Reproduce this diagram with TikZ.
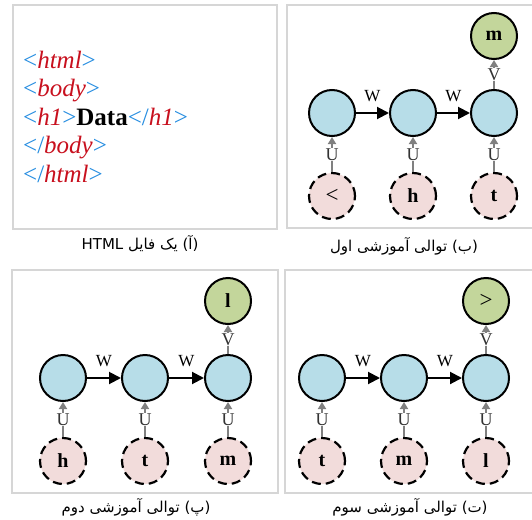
\documentclass[tikz,border=0pt]{standalone}
\usepackage{fontspec}
\setmainfont{Liberation Serif}
\newfontfamily\arabicfont[Script=Arabic]{DejaVu Sans}
\TeXXeTstate=1
\usetikzlibrary{arrows.meta}
\definecolor{hidcol}{RGB}{183,221,232}
\definecolor{outcol}{RGB}{195,214,155}
\definecolor{incol}{RGB}{242,220,219}
\definecolor{tagblue}{RGB}{36,140,224}
\definecolor{tagred}{RGB}{200,16,30}
\definecolor{framecol}{RGB}{214,214,214}
\newcommand\bl[1]{\textcolor{tagblue}{#1}}
\newcommand\rd[1]{\textcolor{tagred}{\textit{#1}}}
\tikzset{
  panelframe/.style={draw=framecol, line width=2.5pt},
  hid/.style={circle, draw=black, line width=2pt, fill=hidcol, minimum size=46pt, inner sep=0pt},
  outn/.style={hid, fill=outcol, font=\fontsize{20}{20}\selectfont\bfseries},
  inn/.style={hid, fill=incol, line width=2.2pt, dash pattern=on 9pt off 5pt, font=\fontsize{20}{20}\selectfont\bfseries},
  warrow/.style={draw=black, line width=2pt, -{Triangle[width=12pt,length=12pt]}},
  garrow/.style={draw=black!50, line width=1.8pt, -{Triangle[width=8pt,length=7pt]}},
  glabel/.style={fill=white, inner sep=0.3pt, text=black!80, font=\fontsize{18}{18}\selectfont},
  wlabel/.style={text=black, font=\fontsize{17}{17}\selectfont},
  htmlline/.style={anchor=base west, inner sep=0pt, font=\fontsize{25}{25}\selectfont},
  caption/.style={font=\arabicfont\fontsize{15}{15}\selectfont, inner sep=0pt}
}
\newcommand\rnnpanel[9]{%
  \node[hid] (#1h1) at (#2,#5) {};
  \node[hid] (#1h2) at (#3,#5) {};
  \node[hid] (#1h3) at (#4,#5) {};
  \node[outn] (#1o) at (#4,#5-77) {#9};
  \node[inn] (#1i1) at (#2,#5+83) {#6};
  \node[inn] (#1i2) at (#3,#5+83) {#7};
  \node[inn] (#1i3) at (#4,#5+83) {#8};
  \draw[warrow] (#1h1) -- node[wlabel, above=7pt] {W} (#1h2);
  \draw[warrow] (#1h2) -- node[wlabel, above=7pt] {W} (#1h3);
  \draw[garrow] (#1i1) -- node[glabel] {U} (#1h1);
  \draw[garrow] (#1i2) -- node[glabel] {U} (#1h2);
  \draw[garrow] (#1i3) -- node[glabel] {U} (#1h3);
  \draw[garrow] (#1h3) -- node[glabel] {V} (#1o);
}
\begin{document}
\begin{tikzpicture}[x=1pt,y=-1pt]
\useasboundingbox (0,0) rectangle (532,519);
% frames
\node[panelframe, rectangle, inner sep=0pt, minimum width=264pt, minimum height=224pt] (fa) at (145,117) {};
\node[panelframe, rectangle, inner sep=0pt, minimum width=250pt, minimum height=223pt] (fb) at (412,116.5) {};
\node[panelframe, rectangle, inner sep=0pt, minimum width=266pt, minimum height=223pt] (fc) at (145,381.5) {};
\node[panelframe, rectangle, inner sep=0pt, minimum width=252pt, minimum height=223pt] (fd) at (411,381.5) {};
% panel a
\node[htmlline] (l1) at (23,68) {\bl{<}\rd{html}\bl{>}};
\node[htmlline] (l2) at (23,96.5) {\bl{<}\rd{body}\bl{>}};
\node[htmlline] (l3) at (23,125) {\bl{<}\rd{h1}\bl{>}\textbf{Data}\bl{</}\rd{h1}\bl{>}};
\node[htmlline] (l4) at (23,153.5) {\bl{</}\rd{body}\bl{>}};
\node[htmlline] (l5) at (23,182) {\bl{</}\rd{html}\bl{>}};
% panels b, c, d
\rnnpanel{b}{332}{413}{494}{113}{{\mdseries\fontsize{23}{23}\selectfont<}}{h}{t}{m}
\rnnpanel{c}{63}{145}{228}{378}{h}{t}{m}{l}
\rnnpanel{d}{322}{404}{486}{378}{t}{m}{l}{{\mdseries\fontsize{23}{23}\selectfont>}}
% captions
\node[caption] (ca) at (140,244) {\beginR(آ) یک فایل \beginL HTML\endL\endR};
\node[caption] (cb) at (404,246) {\beginR(ب) توالی آموزشی اول\endR};
\node[caption] (cc) at (136,507) {\beginR(پ) توالی آموزشی دوم\endR};
\node[caption] (cd) at (410,507) {\beginR(ت) توالی آموزشی سوم\endR};
\end{tikzpicture}
\end{document}
